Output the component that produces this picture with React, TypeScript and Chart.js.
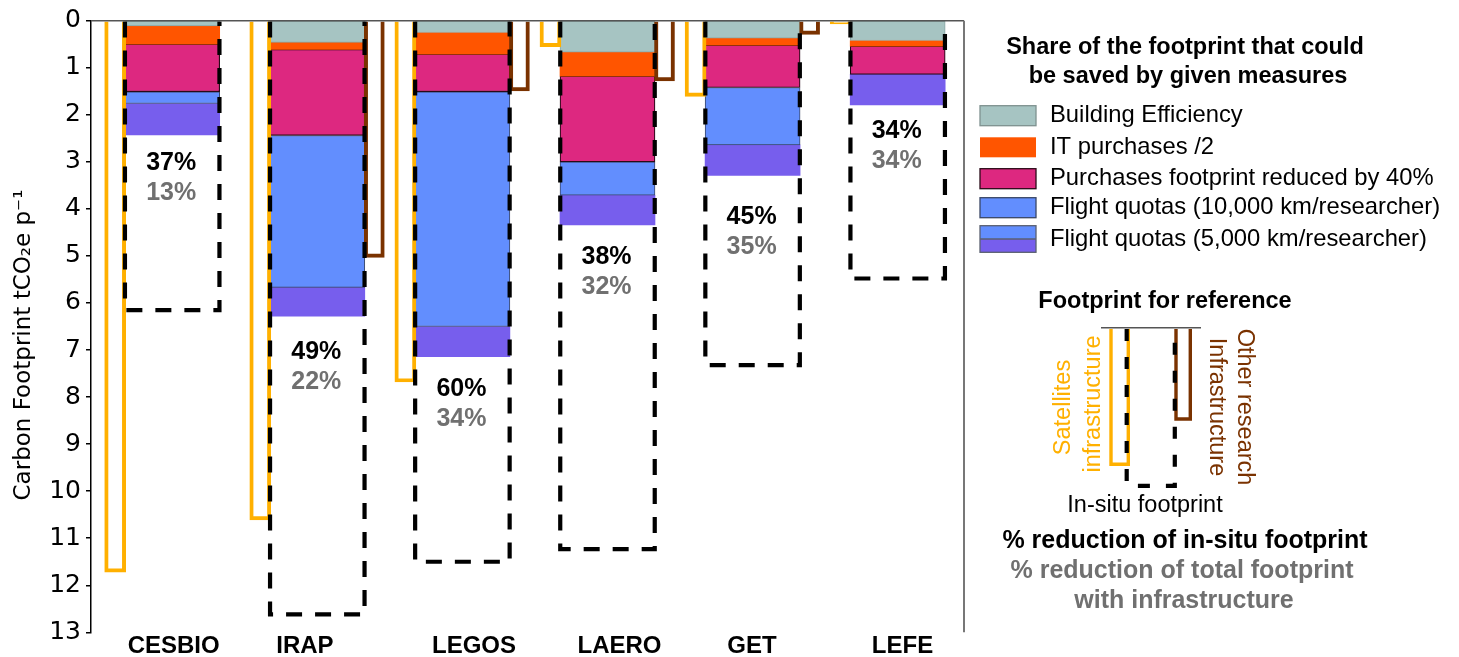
import React, { useEffect, useRef } from 'react';
import { Chart, registerables } from 'chart.js';

Chart.register(...registerables);

// ---------------- data ----------------
const GROUPS = ['CESBIO', 'IRAP', 'LEGOS', 'LAERO', 'GET', 'LEFE'];
const GROUP_POS = [0, 1, 2, 3, 4, 5];

// total footprints (tCO2e per person)
const SATELLITE_INFRA = [11.72, 10.61, 7.68, 0.55, 1.61, 0.07];
const OTHER_INFRA: (number | null)[] = [null, 5.03, 1.49, 1.28, 0.29, null];
const IN_SITU = [6.15, 12.62, 11.5, 11.23, 7.32, 5.48];

// savings by measure (stacked)
const BUILDING = [0.11, 0.46, 0.25, 0.67, 0.37, 0.42];
const IT_PURCHASES = [0.39, 0.15, 0.46, 0.51, 0.15, 0.12];
const PURCHASES = [1.01, 1.83, 0.8, 1.82, 0.9, 0.6];
const FLIGHT_10K = [0.25, 3.23, 4.99, 0.71, 1.22, 0];
const FLIGHT_5K = [0.67, 0.61, 0.64, 0.63, 0.65, 0.65];

const PCT_IN_SITU = ['37%', '49%', '60%', '38%', '45%', '34%'];
const PCT_TOTAL = ['13%', '22%', '34%', '32%', '35%', '34%'];

const Y_TICKS = [0, 1, 2, 3, 4, 5, 6, 7, 8, 9, 10, 11, 12, 13];

const LEGEND_LABELS = [
  'Building Efficiency',
  'IT purchases /2',
  'Purchases footprint reduced by 40%',
  'Flight quotas (10,000 km/researcher)',
  'Flight quotas (5,000 km/researcher)',
];

// ---------------- layout / style ----------------
const W = 1459;
const H = 657;
const SANS = '"Liberation Sans", Arial, Helvetica, sans-serif';
const DEJAVU = '"DejaVu Sans", "Liberation Sans", sans-serif';

const SEG_FILL = ['#a6c4c2', '#ff5500', '#dd2880', '#628efe', '#775eed'];
const SEG_BORDER = ['#8aa6a4', '#ff5500', '#2a0a18', '#3a4766', '#775eed'];
const SEG_BORDER_W = [1, 0, 1.2, 1, 0];
const ORANGE = '#ffb000';
const BROWN = '#7a3200';
const GRAY_TXT = '#707070';

const X_MIN = -0.5596;
const X_MAX = 5.457;
const SIDE_OFFSET = 0.393; // x-units between group centre and side bars
const TICK_LABEL_POS = [0.01, 0.915, 2.08, 3.083, 3.996, 5.033]; // where the category names sit
const PCT_LABEL_Y = [3.02, 7.05, 7.83, 5.03, 4.18, 2.34]; // data-units anchor of % labels

const SEGMENTS = [BUILDING, IT_PURCHASES, PURCHASES, FLIGHT_10K, FLIGHT_5K];

function drawText(
  ctx: CanvasRenderingContext2D,
  text: string,
  x: number,
  y: number,
  font: string,
  color: string,
  align: CanvasTextAlign = 'center',
  baseline: CanvasTextBaseline = 'alphabetic'
) {
  ctx.font = font;
  ctx.fillStyle = color;
  ctx.textAlign = align;
  ctx.textBaseline = baseline;
  ctx.fillText(text, x, y);
}

function drawRotated(
  ctx: CanvasRenderingContext2D,
  text: string,
  x: number,
  y: number,
  angle: number,
  font: string,
  color: string,
  baseline: CanvasTextBaseline = 'alphabetic'
) {
  ctx.save();
  ctx.translate(x, y);
  ctx.rotate(angle);
  drawText(ctx, text, 0, 0, font, color, 'center', baseline);
  ctx.restore();
}

export default function App() {
  const ref = useRef<HTMLCanvasElement>(null);

  useEffect(() => {
    const canvas = ref.current;
    if (!canvas) return;

    const segDatasets = SEGMENTS.map((vals, k) => ({
      label: LEGEND_LABELS[k],
      data: GROUP_POS.map((x, i) => ({ x, y: vals[i] })),
      stack: 'insitu',
      backgroundColor: SEG_FILL[k],
      borderColor: SEG_BORDER[k],
      borderWidth: SEG_BORDER_W[k],
      borderSkipped: false as const,
      barThickness: 95,
    }));

    const datasets: any[] = [
      {
        label: 'Satellites infrastructure',
        data: GROUP_POS.map((x, i) => ({ x: x - SIDE_OFFSET, y: SATELLITE_INFRA[i] })),
        stack: 'sat',
        backgroundColor: 'rgba(255,255,255,0)',
        borderColor: ORANGE,
        borderWidth: 3.3,
        borderSkipped: 'start',
        barThickness: 21,
      },
      {
        label: 'Other research infrastructure',
        data: GROUP_POS.map((x, i) => ({ x: x + SIDE_OFFSET, y: OTHER_INFRA[i] })),
        stack: 'other',
        backgroundColor: 'rgba(255,255,255,0)',
        borderColor: BROWN,
        borderWidth: 3.3,
        borderSkipped: 'start',
        barThickness: 20,
      },
      ...segDatasets,
      {
        label: 'In-situ footprint',
        data: GROUP_POS.map((x, i) => ({ x, y: IN_SITU[i] })),
        stack: 'dash',
        backgroundColor: 'rgba(0,0,0,0)',
        borderWidth: 0,
        barThickness: 94.5,
      },
    ];
    const DASH_INDEX = datasets.length - 1;

    const overlay = {
      id: 'overlay',
      afterDatasetsDraw(chart: any) {
        const ctx: CanvasRenderingContext2D = chart.ctx;
        const { left, right, top, bottom } = chart.chartArea;
        const xs = chart.scales.x;
        const ys = chart.scales.y;

        // dashed in-situ outlines
        ctx.save();
        ctx.strokeStyle = '#000';
        ctx.lineWidth = 4.2;
        ctx.setLineDash([16, 13]);
        chart.getDatasetMeta(DASH_INDEX).data.forEach((el: any) => {
          const { x, y, base, width } = el.getProps(['x', 'y', 'base', 'width'], true);
          const l = x - width / 2;
          const r = x + width / 2;
          ctx.beginPath();
          ctx.moveTo(l, base);
          ctx.lineTo(l, y);
          ctx.lineTo(r, y);
          ctx.lineTo(r, base);
          ctx.stroke();
        });
        ctx.restore();

        // frame: top and right
        ctx.save();
        ctx.strokeStyle = '#555';
        ctx.lineWidth = 1.5;
        ctx.beginPath();
        ctx.moveTo(left, top);
        ctx.lineTo(right, top);
        ctx.stroke();
        ctx.strokeStyle = '#777';
        ctx.lineWidth = 2;
        ctx.beginPath();
        ctx.moveTo(right, top);
        ctx.lineTo(right, bottom);
        ctx.stroke();
        ctx.restore();

        // % labels
        GROUP_POS.forEach((gx, i) => {
          const px = xs.getPixelForValue(gx) - 1;
          const py = ys.getPixelForValue(PCT_LABEL_Y[i]);
          drawText(ctx, PCT_IN_SITU[i], px, py, `bold 25px ${SANS}`, '#000', 'center', 'middle');
          drawText(ctx, PCT_TOTAL[i], px, py + 30, `bold 25px ${SANS}`, GRAY_TXT, 'center', 'middle');
        });
      },
      afterDraw(chart: any) {
        const ctx: CanvasRenderingContext2D = chart.ctx;
        ctx.save();

        // y axis title
        drawRotated(ctx, 'Carbon Footprint tCO\u2082e p\u207B\u00B9', 24, 345, -Math.PI / 2, `23px ${DEJAVU}`, '#000', 'middle');

        // legend title
        drawText(ctx, 'Share of the footprint that could', 1185, 54, `bold 23.5px ${SANS}`, '#000');
        drawText(ctx, 'be saved by given measures', 1188, 83, `bold 23.5px ${SANS}`, '#000');

        // legend items
        const rowY = [115.7, 147.3, 178.7, 207.7, 239];
        LEGEND_LABELS.forEach((lab, k) => {
          const cy = rowY[k];
          if (k < 4) {
            ctx.fillStyle = SEG_FILL[k];
            ctx.fillRect(980, cy - 10, 56, 20);
            if (k !== 1) {
              ctx.strokeStyle = k === 0 ? '#7f9290' : SEG_BORDER[k];
              ctx.lineWidth = 1.3;
              ctx.strokeRect(980, cy - 10, 56, 20);
            }
          } else {
            ctx.fillStyle = SEG_FILL[3];
            ctx.fillRect(980, cy - 13.3, 56, 13.3);
            ctx.fillStyle = SEG_FILL[4];
            ctx.fillRect(980, cy, 56, 13.3);
            ctx.strokeStyle = '#5a6070';
            ctx.lineWidth = 1.3;
            ctx.strokeRect(980, cy - 13.3, 56, 26.6);
            ctx.beginPath();
            ctx.moveTo(980, cy);
            ctx.lineTo(1036, cy);
            ctx.stroke();
          }
          drawText(ctx, lab, 1050, cy, `23.8px ${SANS}`, '#000', 'left', 'middle');
        });

        // reference diagram
        drawText(ctx, 'Footprint for reference', 1165, 308, `bold 23.5px ${SANS}`, '#000');
        ctx.strokeStyle = '#555';
        ctx.lineWidth = 1.5;
        ctx.beginPath();
        ctx.moveTo(1101, 327.7);
        ctx.lineTo(1201, 327.7);
        ctx.stroke();

        ctx.lineWidth = 3.4;
        ctx.strokeStyle = ORANGE;
        ctx.beginPath();
        ctx.moveTo(1111, 329);
        ctx.lineTo(1111, 464.3);
        ctx.lineTo(1128.3, 464.3);
        ctx.lineTo(1128.3, 329);
        ctx.stroke();

        ctx.strokeStyle = BROWN;
        ctx.beginPath();
        ctx.moveTo(1176, 329);
        ctx.lineTo(1176, 419);
        ctx.lineTo(1190.3, 419);
        ctx.lineTo(1190.3, 329);
        ctx.stroke();

        ctx.strokeStyle = '#000';
        ctx.lineWidth = 4.2;
        ctx.setLineDash([12, 16]);
        ctx.beginPath();
        ctx.moveTo(1126.7, 329);
        ctx.lineTo(1126.7, 485.8);
        ctx.lineTo(1174.8, 485.8);
        ctx.lineTo(1174.8, 329);
        ctx.stroke();
        ctx.setLineDash([]);

        drawRotated(ctx, 'Satellites', 1070, 407.5, -Math.PI / 2, `23.5px ${SANS}`, ORANGE);
        drawRotated(ctx, 'infrastructure', 1100, 404, -Math.PI / 2, `23.5px ${SANS}`, ORANGE);
        drawRotated(ctx, 'Other research', 1238, 407, Math.PI / 2, `23.5px ${SANS}`, BROWN);
        drawRotated(ctx, 'Infrastructure', 1210, 407, Math.PI / 2, `23.5px ${SANS}`, BROWN);

        drawText(ctx, 'In-situ footprint', 1145, 511.5, `23.5px ${SANS}`, '#000');

        drawText(ctx, '% reduction of in-situ footprint', 1185, 548, `bold 25px ${SANS}`, '#000');
        drawText(ctx, '% reduction of total footprint', 1182, 578, `bold 25px ${SANS}`, GRAY_TXT);
        drawText(ctx, 'with infrastructure', 1184, 608, `bold 25px ${SANS}`, GRAY_TXT);

        ctx.restore();
      },
    };

    const chart = new Chart(canvas, {
      type: 'bar',
      data: { datasets },
      options: {
        responsive: false,
        animation: false,
        devicePixelRatio: 1,
        layout: { padding: { top: 20.7, right: 495, left: 0, bottom: 0 } },
        datasets: { bar: { grouped: false } } as any,
        plugins: {
          legend: { display: false },
          tooltip: { enabled: false },
          title: { display: false },
        },
        scales: {
          x: {
            type: 'linear',
            offset: false,
            min: X_MIN,
            max: X_MAX,
            bounds: 'data',
            grid: { display: false, drawTicks: false, offset: false },
            border: { display: false },
            afterBuildTicks: (scale: any) => {
              scale.ticks = TICK_LABEL_POS.map((v) => ({ value: v }));
            },
            afterFit: (scale: any) => {
              scale.height = 24.7;
            },
            ticks: {
              autoSkip: false,
              maxRotation: 0,
              padding: 2.5,
              color: '#000',
              font: { family: SANS, size: 24, weight: 'bold', lineHeight: 1 },
              callback: (_v: any, index: number) => GROUPS[index],
            },
          },
          y: {
            type: 'linear',
            reverse: true,
            stacked: true,
            min: 0,
            max: 13,
            afterBuildTicks: (scale: any) => {
              scale.ticks = Y_TICKS.map((v) => ({ value: v }));
            },
            afterFit: (scale: any) => {
              scale.width = 91;
            },
            border: { display: true, color: '#000', width: 1.5 },
            grid: { drawOnChartArea: false, drawTicks: true, tickLength: 5, color: '#000', lineWidth: 1.5 },
            ticks: {
              autoSkip: false,
              padding: 5,
              color: '#000',
              font: { family: DEJAVU, size: 25, lineHeight: 1 },
              callback: (v: any) => String(v),
            },
          },
        },
      } as any,
      plugins: [overlay],
    });

    return () => chart.destroy();
  }, []);

  return (
    <div style={{ position: 'fixed', left: 0, top: 0, width: W, height: H, background: '#fff' }}>
      <canvas ref={ref} width={W} height={H} style={{ display: 'block', width: W, height: H }} />
    </div>
  );
}
